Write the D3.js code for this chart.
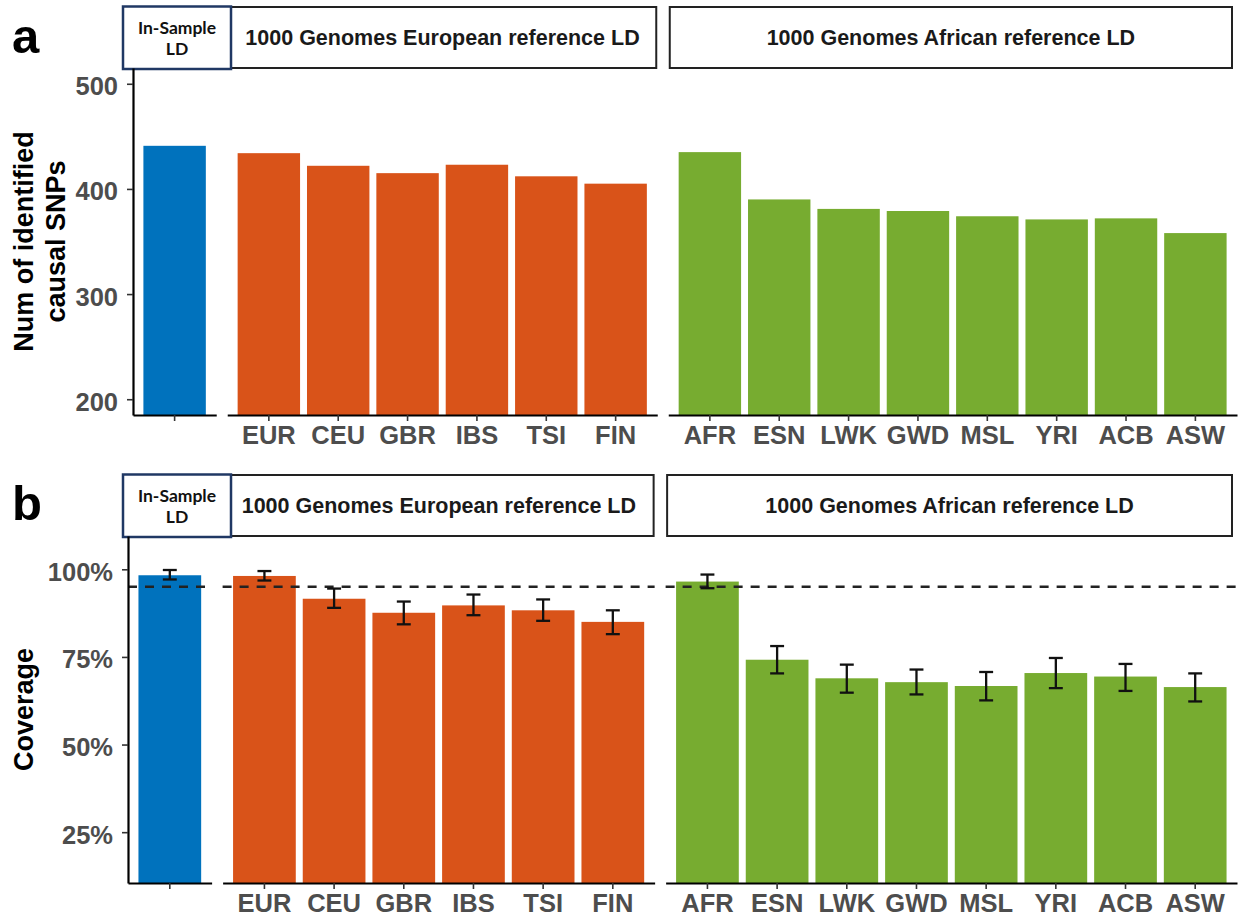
<!DOCTYPE html>
<html>
<head>
<meta charset="utf-8">
<script src="https://cdn.jsdelivr.net/npm/d3@7"></script>
<style>
  html, body { margin: 0; padding: 0; background: #fff; }
  svg { display: block; }
</style>
</head>
<body>
<svg id="chart" width="1238" height="917"></svg>
<script>
// ---------------- DATA ----------------
const panelTitles = ["In-Sample LD", "1000 Genomes European reference LD", "1000 Genomes African reference LD"];
const inSampleCats = [""];
const eurCats = ["EUR", "CEU", "GBR", "IBS", "TSI", "FIN"];
const afrCats = ["AFR", "ESN", "LWK", "GWD", "MSL", "YRI", "ACB", "ASW"];

// panel a: number of identified causal SNPs
const snpInSample = [441];
const snpEur = [434, 422, 415, 423, 412, 405];
const snpAfr = [435, 390, 381, 379, 374, 371, 372, 358];
const snpTicks = [200, 300, 400, 500];

// panel b: coverage (mean, lower, upper)
const covInSample = [0.983];
const covInSampleLo = [0.971];
const covInSampleHi = [0.998];
const covEur = [0.981, 0.916, 0.876, 0.897, 0.883, 0.850];
const covEurLo = [0.968, 0.890, 0.843, 0.869, 0.853, 0.815];
const covEurHi = [0.995, 0.945, 0.908, 0.928, 0.914, 0.883];
const covAfr = [0.965, 0.742, 0.689, 0.678, 0.667, 0.704, 0.694, 0.664];
const covAfrLo = [0.946, 0.703, 0.648, 0.643, 0.626, 0.661, 0.653, 0.623];
const covAfrHi = [0.985, 0.781, 0.728, 0.714, 0.707, 0.747, 0.730, 0.703];
const covTicks = [0.25, 0.50, 0.75, 1.00];
const covTarget = 0.95;

const groupColors = ["#0072BD", "#D95319", "#77AC30"];

// ---------------- DRAW ----------------
const svg = d3.select("#chart");
const W = 1238;
const FONT = "'Liberation Sans', Arial, Helvetica, sans-serif";

function buildPanels(left, right, gap) {
  const cats = [inSampleCats, eurCats, afrCats];
  const units = cats.map(c => c.length + 0.2);
  const total = d3.sum(units);
  const step = (right - left - 2 * gap) / total;
  let x0 = left;
  return cats.map((c, i) => {
    const x1 = x0 + units[i] * step;
    const sc = d3.scaleBand().domain(c).range([x0, x1]).paddingInner(0.1).paddingOuter(0.15);
    const p = { cats: c, x0, x1, sc, step, color: groupColors[i], title: panelTitles[i] };
    x0 = x1 + gap;
    return p;
  });
}

function drawRow(cfg) {
  const g = svg.append("g");
  const panels = buildPanels(cfg.left, 1237, 11);
  const y = cfg.y;

  panels.forEach((p, i) => {
    const vals = cfg.values[i];
    // bars
    g.append("g").selectAll("rect").data(p.cats).join("rect")
      .attr("x", d => p.sc(d))
      .attr("width", p.sc.bandwidth())
      .attr("y", (d, j) => y(vals[j]))
      .attr("height", (d, j) => y.range()[0] - y(vals[j]))
      .attr("fill", p.color);

    // reference line
    if (cfg.hline !== undefined) {
      g.append("line")
        .attr("x1", p.x0).attr("x2", p.x1)
        .attr("y1", y(cfg.hline)).attr("y2", y(cfg.hline))
        .attr("stroke", "#222").attr("stroke-width", 2.4)
        .attr("stroke-dasharray", "9,8");
    }

    // error bars
    if (cfg.lo) {
      const lo = cfg.lo[i], hi = cfg.hi[i];
      const cw = p.step * 0.1;
      const eg = g.append("g").attr("stroke", "#111").attr("stroke-width", 2.3).attr("fill", "none");
      p.cats.forEach((d, j) => {
        const cx = p.sc(d) + p.sc.bandwidth() / 2;
        eg.append("line").attr("x1", cx).attr("x2", cx).attr("y1", y(lo[j])).attr("y2", y(hi[j]));
        eg.append("line").attr("x1", cx - cw).attr("x2", cx + cw).attr("y1", y(lo[j])).attr("y2", y(lo[j]));
        eg.append("line").attr("x1", cx - cw).attr("x2", cx + cw).attr("y1", y(hi[j])).attr("y2", y(hi[j]));
      });
    }

    // x axis
    const ax = g.append("g")
      .attr("transform", `translate(0,${y.range()[0]})`)
      .call(d3.axisBottom(p.sc).tickSize(6).tickPadding(5).tickSizeOuter(0));
    ax.select(".domain").attr("stroke", "#000").attr("stroke-width", 2.2);
    ax.selectAll(".tick line").attr("stroke", "#333").attr("stroke-width", 1.6);
    ax.selectAll(".tick text")
      .attr("fill", "#4D4D4D").attr("font-family", FONT).attr("font-weight", "bold")
      .attr("font-size", "25.5px");

    // strip
    if (i > 0) {
      const sx0 = p.x0 + 1.5;
      const sx1 = Math.min(p.x1 - 1, W - 6);
      g.append("rect")
        .attr("x", sx0).attr("y", cfg.stripTop)
        .attr("width", sx1 - sx0).attr("height", y.range()[1] - cfg.stripTop)
        .attr("fill", "#fff").attr("stroke", "#222").attr("stroke-width", 2);
      g.append("text")
        .attr("x", (sx0 + sx1) / 2)
        .attr("y", (cfg.stripTop + y.range()[1]) / 2 + 7.7)
        .attr("text-anchor", "middle")
        .attr("font-family", FONT).attr("font-weight", "bold").attr("font-size", "21.5px")
        .attr("fill", "#1a1a1a")
        .text(p.title);
    }
  });

  // In-sample box (custom strip)
  const bx0 = 123, bx1 = 231;
  const by0 = cfg.stripTop - 0.5, by1 = y.range()[1] + 1;
  g.append("rect")
    .attr("x", bx0).attr("y", by0).attr("width", bx1 - bx0).attr("height", by1 - by0)
    .attr("fill", "#fff").attr("stroke", "#203864").attr("stroke-width", 2.5);
  const words = ["In-Sample", "LD"];
  words.forEach((w, k) => {
    g.append("text")
      .attr("x", (bx0 + bx1) / 2)
      .attr("y", cfg.stripTop + 26.5 + k * 21)
      .attr("text-anchor", "middle")
      .attr("font-family", "Lato, 'Open Sans', sans-serif").attr("font-weight", "bold")
      .attr("font-size", "17.5px").attr("fill", "#111")
      .text(w);
  });

  // y axis
  const ay = g.append("g")
    .attr("transform", `translate(${cfg.left},0)`)
    .call(d3.axisLeft(y).tickValues(cfg.ticks).tickFormat(cfg.tickFormat).tickSize(6).tickPadding(9).tickSizeOuter(0));
  ay.select(".domain").attr("stroke", "#000").attr("stroke-width", 2.2);
  ay.selectAll(".tick line").attr("stroke", "#333").attr("stroke-width", 1.6);
  ay.selectAll(".tick text")
    .attr("fill", "#4D4D4D").attr("font-family", FONT).attr("font-weight", "bold")
    .attr("font-size", "25.5px").attr("dy", "0.43em");

  // y title
  const cy = (y.range()[0] + y.range()[1]) / 2;
  cfg.yTitle.forEach((line, k) => {
    const bx = cfg.yTitleX[k];
    g.append("text")
      .attr("transform", `translate(${bx},${cy}) rotate(-90)`)
      .attr("text-anchor", "middle")
      .attr("font-family", FONT).attr("font-weight", "bold").attr("font-size", "27px")
      .attr("fill", "#000")
      .text(line);
  });

  // panel letter
  svg.append("text")
    .attr("x", 12).attr("y", cfg.letterY)
    .attr("font-family", FONT).attr("font-weight", "bold").attr("font-size", "49px")
    .attr("fill", "#000")
    .text(cfg.letter);
}

// Row a
drawRow({
  left: 133,
  stripTop: 7,
  y: d3.scaleLinear().domain([185, 515]).range([415, 68]),
  values: [snpInSample, snpEur, snpAfr],
  ticks: snpTicks,
  tickFormat: d3.format("d"),
  yTitle: ["Num of identified", "causal SNPs"],
  yTitleX: [33, 65],
  letter: "a",
  letterY: 53
});

// Row b
drawRow({
  left: 128,
  stripTop: 475,
  y: d3.scaleLinear().domain([0.105, 1.095]).range([883, 536]),
  values: [covInSample, covEur, covAfr],
  lo: [covInSampleLo, covEurLo, covAfrLo],
  hi: [covInSampleHi, covEurHi, covAfrHi],
  hline: covTarget,
  ticks: covTicks,
  tickFormat: d3.format(".0%"),
  yTitle: ["Coverage"],
  yTitleX: [33],
  letter: "b",
  letterY: 520
});
</script>
</body>
</html>
